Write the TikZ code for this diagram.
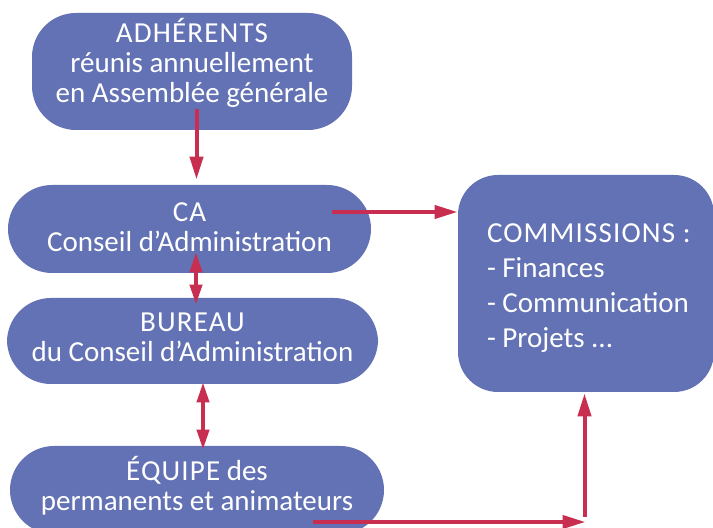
\documentclass[tikz,border=0pt]{standalone}
\usepackage{fontspec}
\setmainfont{Carlito}
\usetikzlibrary{arrows.meta}
\definecolor{boxblue}{RGB}{99,114,180}
\definecolor{arrowred}{RGB}{200,46,80}
\newcommand{\spaced}[1]{{\addfontfeature{LetterSpace=4}#1}}
\newcommand{\lift}[2]{\raisebox{#1}[\height][\depth]{#2}}
\tikzset{box/.style = {fill=boxblue, rounded corners=22pt, text=white, align=center,
                       inner sep=0, font=\fontsize{14.5}{15}\selectfont}}
\tikzset{arr/.style = {draw=arrowred, line width=2pt,
                       -{Triangle[length=11.5pt,width=6.5pt]}}}
\tikzset{dblarr/.style = {draw=arrowred, line width=2pt,
                          {Triangle[length=10pt,width=6pt]}-{Triangle[length=10pt,width=6pt]}}}

\begin{document}
\begin{tikzpicture}[x=0.5pt, y=-0.5pt]
      \useasboundingbox (0, 0) rectangle (713, 528);
      \node [box, minimum width=160pt, minimum height=58.5pt] (adherents) at (192, 71.5)
            {\lift{4.5pt}{\parbox{160pt}{\centering \spaced{ADHÉRENTS}\\réunis annuellement\\en Assemblée générale}}};
      \node [box, minimum width=181.5pt, minimum height=44pt] (ca) at (189.5, 229)
            {\lift{0.75pt}{\parbox{180pt}{\centering \spaced{CA}\\Conseil d’Administration}}};
      \node [box, minimum width=185.5pt, minimum height=43pt] (bureau) at (192.5, 341)
            {\lift{2pt}{\parbox{180pt}{\centering \spaced{BUREAU}\\du Conseil d’Administration}}};
      \node [box, minimum width=187pt, minimum height=44pt] (equipe) at (197, 490)
            {\lift{2pt}{\parbox{180pt}{\centering \spaced{ÉQUIPE} des\\permanents et animateurs}}};
      \node [box, rounded corners=20pt, minimum width=128pt, minimum height=108.5pt, align=left,
             font=\fontsize{14.5}{17.5}\selectfont] (commissions) at (586, 283.5)
            {\lift{-2.25pt}{\parbox{99pt}{\raggedright
              \mbox{\spaced{COMMISSIONS :}}\\\mbox{- Finances}\\\mbox{- Communication}\\\mbox{- Projets ...}}}};
      \coordinate (coin) at (584.5, 522);
      \draw [arr] ([xshift=2.25pt, yshift=10.5pt]adherents.south)
                  -- ([xshift=2.25pt, yshift=2.5pt]adherents.south |- ca.north);
      \draw [dblarr] ([xshift=3.25pt, yshift=10.5pt]ca.south)
                     -- ([xshift=3.25pt, yshift=-3.5pt]ca.south |- bureau.north);
      \draw [dblarr] ([xshift=5.25pt, yshift=1pt]bureau.south)
                     -- ([xshift=5.25pt, yshift=-2pt]bureau.south |- equipe.north);
      \draw [arr] ([xshift=-19.5pt, yshift=8.5pt]ca.east)
                  -- ([yshift=8.5pt]ca.east -| commissions.west);
      \draw [arr] ([xshift=58pt, yshift=-16pt]equipe.center) -- ([xshift=0.5pt]coin);
      \draw [arr] ([yshift=2.5pt]coin) -- ([yshift=-0.5pt]coin |- commissions.south);
\end{tikzpicture}
\end{document}
